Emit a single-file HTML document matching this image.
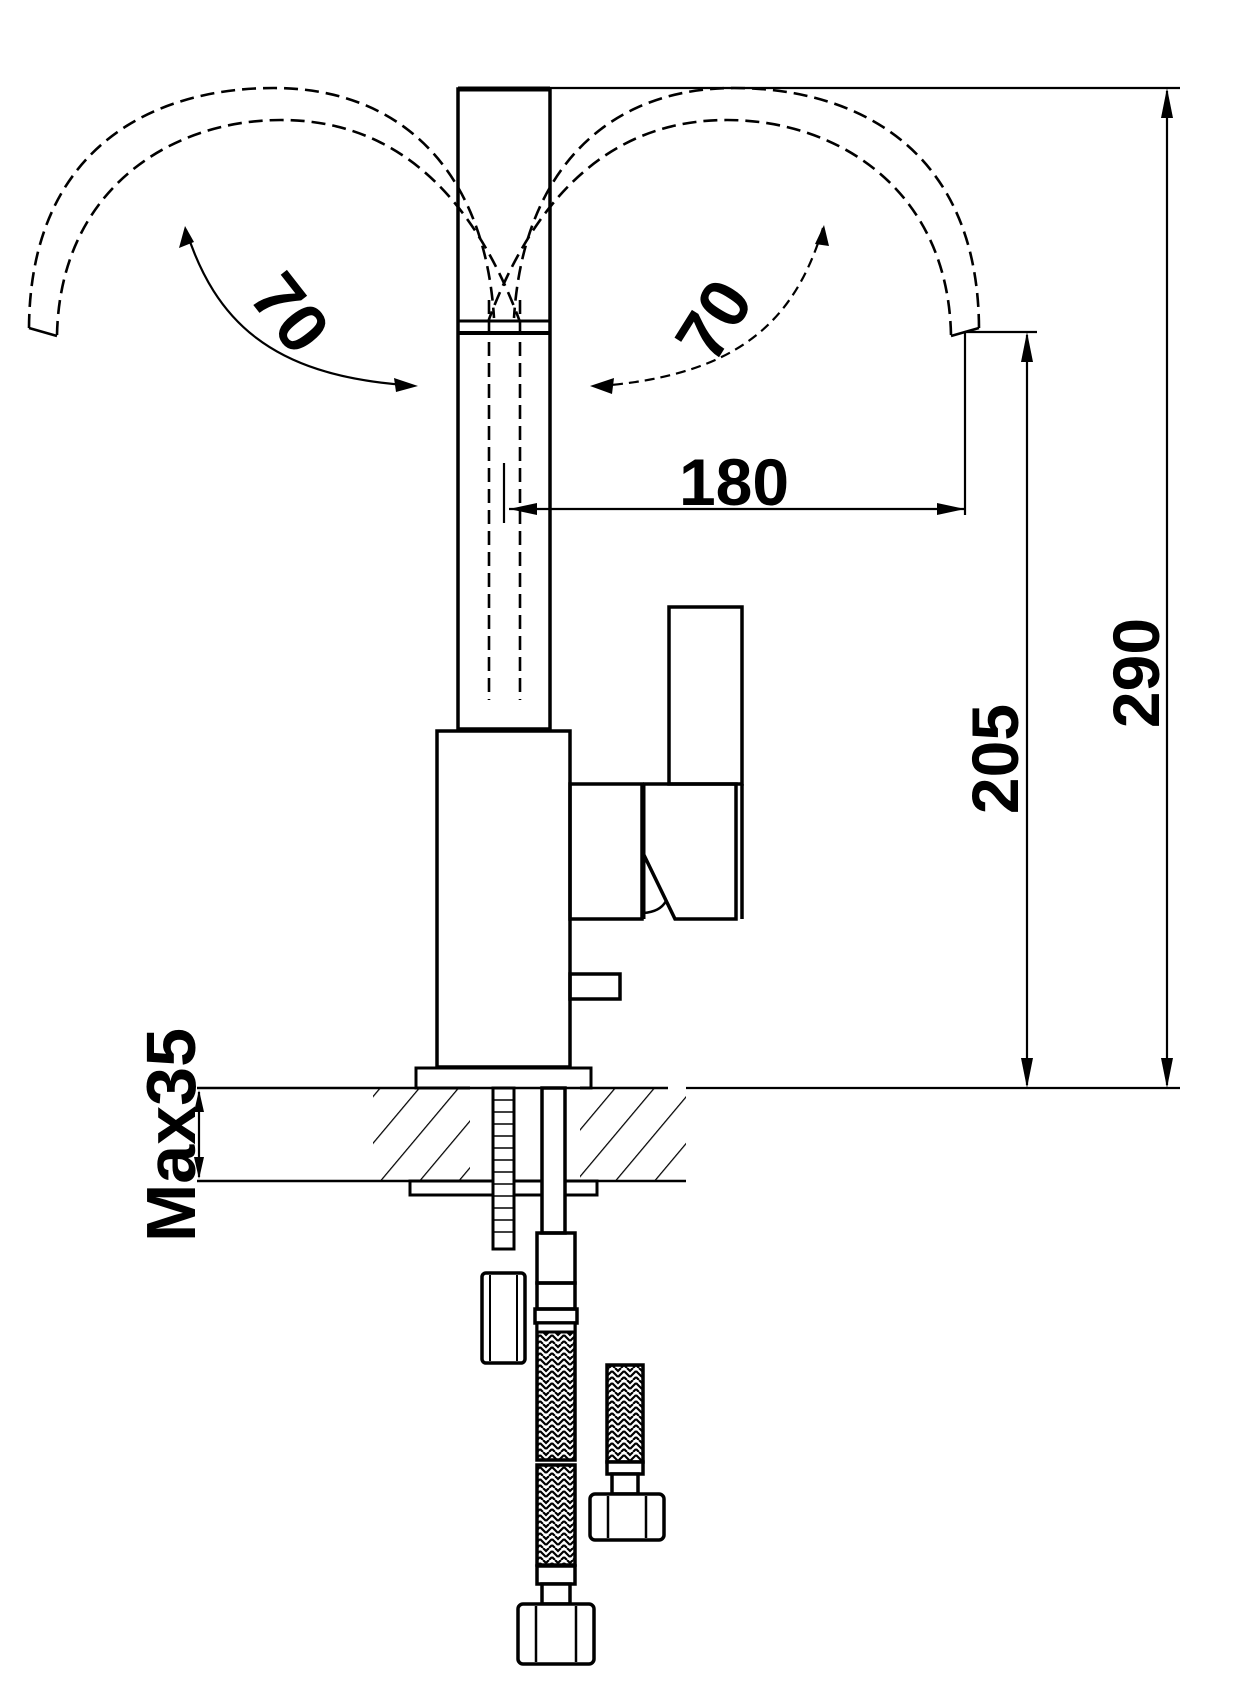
<!DOCTYPE html>
<html><head><meta charset="utf-8"><style>
html,body{margin:0;padding:0;background:#fff}
svg{display:block}
text{font-family:"Liberation Sans",Arial,sans-serif;font-weight:bold;fill:#000}
</style></head><body>
<svg width="1249" height="1681" viewBox="0 0 1249 1681" xmlns="http://www.w3.org/2000/svg">
<defs>
<pattern id="hatch" patternUnits="userSpaceOnUse" width="30" height="30" patternTransform="rotate(40)">
<line x1="0" y1="0" x2="0" y2="30" stroke="#000" stroke-width="2.5"/>
</pattern>
<pattern id="braid" patternUnits="userSpaceOnUse" width="12" height="12">
<path d="M0,3 L6,9 M6,9 L12,3 M0,9 L3,12 M12,9 L9,12 M3,0 L6,3 L9,0" stroke="#000" stroke-width="2.2" fill="none"/>
</pattern>
<marker id="ah" markerWidth="10" markerHeight="8" refX="9" refY="4" orient="auto" markerUnits="userSpaceOnUse" viewBox="0 0 10 8">
</marker>
</defs>

<!-- spout arcs -->
<g fill="none" stroke="#000" stroke-width="2.6" stroke-dasharray="14 7">
<path d="M29,328 C30,150 150,88 274,88 C400,88 485,170 494,318"/>
<path d="M57,335 C60,190 170,120 281,120 C400,120 475,200 520,322"/>
</g>
<g fill="none" stroke="#000" stroke-width="2.6" stroke-dasharray="14 7" transform="translate(1008,0) scale(-1,1)">
<path d="M29,328 C30,150 150,88 274,88 C400,88 485,170 494,318"/>
<path d="M57,335 C60,190 170,120 281,120 C400,120 475,200 520,322"/>
</g>
<g stroke="#000" stroke-width="2.6">
<line x1="29" y1="328" x2="57" y2="336"/>
<line x1="979" y1="328" x2="951" y2="336"/>
</g>

<!-- spout column -->
<rect x="458" y="89" width="92" height="640" fill="none" stroke="#000" stroke-width="3.5"/>
<line x1="458" y1="89" x2="550" y2="89" stroke="#000" stroke-width="5"/>
<line x1="458" y1="321" x2="550" y2="321" stroke="#000" stroke-width="3"/>
<line x1="458" y1="333" x2="550" y2="333" stroke="#000" stroke-width="4"/>
<g stroke="#000" stroke-width="2.6" stroke-dasharray="14 7">
<line x1="489" y1="300" x2="489" y2="700"/>
<line x1="520" y1="300" x2="520" y2="700"/>
</g>

<!-- angle arrows -->
<path d="M186,230 C215,320 270,375 405,385" fill="none" stroke="#000" stroke-width="2.2"/>
<polygon points="185,226 179,248 194,242" fill="#000"/>
<polygon points="418,386 394,378 396,392" fill="#000"/>
<path d="M823,228 C795,320 740,375 600,386" fill="none" stroke="#000" stroke-width="2.2" stroke-dasharray="10 6"/>
<polygon points="824,225 815,244 829,246" fill="#000"/>
<polygon points="590,386 614,378 612,394" fill="#000"/>
<text x="290" y="313" font-size="70" text-anchor="middle" dominant-baseline="central" transform="rotate(52 290 313)">70</text>
<text x="714" y="320" font-size="70" text-anchor="middle" dominant-baseline="central" transform="rotate(-58 714 320)">70</text>

<!-- body -->
<rect x="437" y="731" width="133" height="336" fill="none" stroke="#000" stroke-width="3.5"/>
<rect x="416" y="1068" width="175" height="20" fill="none" stroke="#000" stroke-width="3"/>

<!-- handle -->
<g fill="none" stroke="#000" stroke-width="3.5">
<rect x="669" y="607" width="73" height="177"/>
<rect x="570" y="784" width="72" height="135"/>
<polyline points="643,784 736,784 736,919 675,919 643,853"/>
<line x1="742" y1="784" x2="742" y2="919"/>
<path d="M643,913 Q660,912 666,901" stroke-width="2.5"/>
<rect x="570" y="974" width="50" height="25"/>
</g>
<line x1="643" y1="784" x2="643" y2="919" stroke="#000" stroke-width="5"/>

<!-- countertop -->
<rect x="343" y="1088" width="343" height="92" fill="url(#hatch)"/>
<rect x="470" y="1086" width="110" height="96" fill="#fff"/>
<rect x="343" y="1050" width="30" height="135" fill="#fff"/>
<line x1="197" y1="1088" x2="668" y2="1088" stroke="#000" stroke-width="2.5"/>
<line x1="197" y1="1181" x2="686" y2="1181" stroke="#000" stroke-width="2.5"/>
<rect x="410" y="1181" width="187" height="14" fill="#fff" stroke="#000" stroke-width="3"/>

<!-- bolt -->
<rect x="493" y="1088" width="21" height="161" fill="#fff" stroke="#000" stroke-width="3"/>
<g stroke="#000" stroke-width="1.5">
<line x1="494" y1="1100" x2="513" y2="1100"/><line x1="494" y1="1112" x2="513" y2="1112"/>
<line x1="494" y1="1124" x2="513" y2="1124"/><line x1="494" y1="1136" x2="513" y2="1136"/>
<line x1="494" y1="1148" x2="513" y2="1148"/><line x1="494" y1="1160" x2="513" y2="1160"/>
<line x1="494" y1="1172" x2="513" y2="1172"/><line x1="494" y1="1184" x2="513" y2="1184"/>
<line x1="494" y1="1196" x2="513" y2="1196"/><line x1="494" y1="1208" x2="513" y2="1208"/>
<line x1="494" y1="1220" x2="513" y2="1220"/><line x1="494" y1="1232" x2="513" y2="1232"/>
</g>
<!-- pipe -->
<rect x="542" y="1088" width="23" height="145" fill="#fff" stroke="#000" stroke-width="3.5"/>
<!-- separate nut -->
<rect x="483" y="1236" width="43" height="90" rx="4" fill="#fff" stroke="#000" stroke-width="3.5" transform="translate(-1,37)"/>
<line x1="490" y1="1275" x2="490" y2="1361" stroke="#000" stroke-width="2"/>
<line x1="517" y1="1275" x2="517" y2="1361" stroke="#000" stroke-width="2"/>

<!-- long hose -->
<g fill="none" stroke="#000" stroke-width="3.5">
<rect x="537" y="1233" width="38" height="50"/>
<rect x="537" y="1283" width="38" height="26"/>
<rect x="535" y="1309" width="42" height="14"/>
</g>
<rect x="537" y="1323" width="38" height="137" fill="url(#braid)" stroke="#000" stroke-width="3.5"/>
<rect x="537" y="1340" width="38" height="0" />
<rect x="537" y="1465" width="38" height="100" fill="url(#braid)" stroke="#000" stroke-width="3.5"/>
<rect x="537" y="1481" width="38" height="0"/>
<rect x="537" y="1566" width="38" height="18" fill="#fff" stroke="#000" stroke-width="3.5"/>
<rect x="542" y="1584" width="28" height="20" fill="#fff" stroke="#000" stroke-width="3.5"/>
<rect x="518" y="1604" width="76" height="60" rx="5" fill="#fff" stroke="#000" stroke-width="3.5"/>
<line x1="536" y1="1606" x2="536" y2="1662" stroke="#000" stroke-width="2.5"/>
<line x1="576" y1="1606" x2="576" y2="1662" stroke="#000" stroke-width="2.5"/>
<rect x="537" y="1323" width="38" height="9" fill="#fff" stroke="#000" stroke-width="3"/>

<!-- short hose -->
<rect x="607" y="1365" width="36" height="97" fill="url(#braid)" stroke="#000" stroke-width="3.5"/>
<rect x="607" y="1462" width="36" height="12" fill="#fff" stroke="#000" stroke-width="3.5"/>
<rect x="612" y="1474" width="26" height="20" fill="#fff" stroke="#000" stroke-width="3.5"/>
<rect x="590" y="1494" width="74" height="46" rx="5" fill="#fff" stroke="#000" stroke-width="3.5"/>
<line x1="608" y1="1496" x2="608" y2="1538" stroke="#000" stroke-width="2.5"/>
<line x1="646" y1="1496" x2="646" y2="1538" stroke="#000" stroke-width="2.5"/>

<!-- dimension 180 -->
<g stroke="#000" stroke-width="2.2">
<line x1="504" y1="463" x2="504" y2="523"/>
<line x1="509" y1="509" x2="965" y2="509"/>
<line x1="965" y1="332" x2="965" y2="515"/>
<line x1="965" y1="332" x2="1037" y2="332"/>
<line x1="550" y1="88" x2="1180" y2="88"/>
<line x1="686" y1="1088" x2="1180" y2="1088"/>
<line x1="1027" y1="335" x2="1027" y2="1085"/>
<line x1="1167" y1="91" x2="1167" y2="1085"/>
<line x1="199" y1="1092" x2="199" y2="1177"/>
</g>
<polygon points="509,509 537,503 537,515" fill="#000"/>
<polygon points="965,509 937,503 937,515" fill="#000"/>
<polygon points="1027,332 1021,362 1033,362" fill="#000"/>
<polygon points="1027,1088 1021,1058 1033,1058" fill="#000"/>
<polygon points="1167,88 1161,118 1173,118" fill="#000"/>
<polygon points="1167,1088 1161,1058 1173,1058" fill="#000"/>
<polygon points="199,1090 194,1112 204,1112" fill="#000"/>
<polygon points="199,1179 194,1157 204,1157" fill="#000"/>

<text x="734" y="482" font-size="66" text-anchor="middle" dominant-baseline="central">180</text>
<text x="995" y="759" font-size="66" text-anchor="middle" dominant-baseline="central" transform="rotate(-90 995 759)">205</text>
<text x="1136" y="673" font-size="66" text-anchor="middle" dominant-baseline="central" transform="rotate(-90 1136 673)">290</text>
<text x="171" y="1135" font-size="70" text-anchor="middle" dominant-baseline="central" transform="rotate(-90 171 1135)">Max35</text>
</svg>
</body></html>
